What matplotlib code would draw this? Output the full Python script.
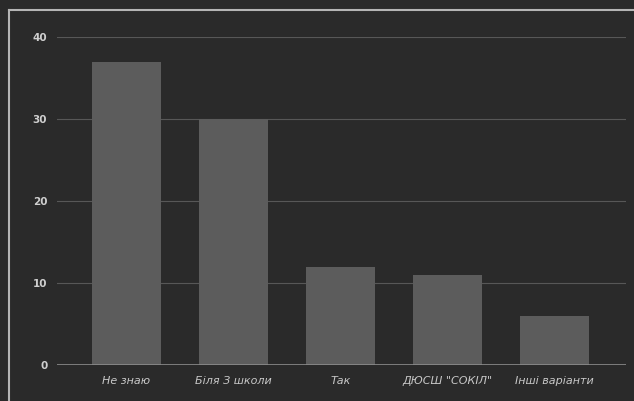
import matplotlib
matplotlib.use('Agg')
from matplotlib import pyplot as plt
from matplotlib.lines import Line2D

categories = ['Не знаю', 'Біля З школи', 'Так', 'ДЮСШ "СОКІЛ"', 'Інші варіанти']
values = [37, 30, 12, 11, 6]
yticks = [0, 10, 20, 30, 40]

bg = '#2a2a2a'
fig = plt.figure(figsize=(6.34, 4.01), dpi=100, facecolor=bg)
ax = fig.add_axes([57 / 634, 1 - 365 / 401, (626 - 57) / 634, (365 - 37) / 401])
ax.set_facecolor(bg)

ax.bar(range(len(categories)), values, width=0.65, color='#5c5c5c', zorder=2)
ax.set_xlim(-0.65, 4.67)
ax.set_ylim(0, 40)
ax.set_yticks(yticks)
ax.grid(axis='y', color='#575757', linewidth=0.8, zorder=0)
ax.axhline(0, color='#8c8c8c', linewidth=1.2, zorder=3)

for s in ax.spines.values():
    s.set_visible(False)
ax.tick_params(axis='both', length=0, colors='#cfcfcf')
ax.tick_params(axis='y', pad=7, labelsize=7.5)
ax.tick_params(axis='x', pad=8, labelsize=8)
for lbl in ax.get_yticklabels():
    lbl.set_fontweight('bold')
ax.set_xticks(range(len(categories)))
ax.set_xticklabels(categories, style='italic', color='#c8c8c8')

# light frame round the chart
fx = 9 / 634
fy = 1 - 10 / 401
fig.add_artist(Line2D([fx, fx], [0, fy], transform=fig.transFigure, color='#b5b5b5', linewidth=1.5))
fig.add_artist(Line2D([fx, 1], [fy, fy], transform=fig.transFigure, color='#b5b5b5', linewidth=1.5))

fig.savefig('out.png', dpi=100, facecolor=bg)
